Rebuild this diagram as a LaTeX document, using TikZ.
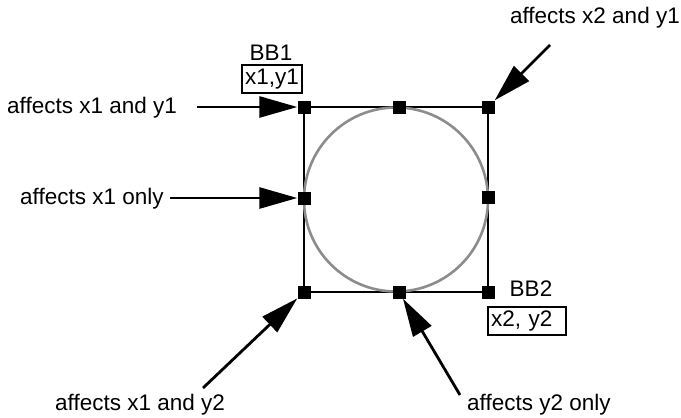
\documentclass[tikz,border=0pt]{standalone}
\usepackage{fontspec}
\setmainfont{Liberation Sans}
\usetikzlibrary{arrows.meta}

\begin{document}
\begin{tikzpicture}[x=1pt, y=-1pt, >={Triangle[length=38pt, width=21pt]},
    handle/.style={fill=black, inner sep=0pt, minimum size=13pt},
    lbl/.style={inner sep=0pt, font=\fontsize{22.5}{27}\selectfont},
    pointer/.style={->, line width=2.8pt},
    valbox/.style={draw, line width=2.4pt, inner sep=3pt, minimum height=28pt,
                   font=\fontsize{22.5}{27}\selectfont}]
  \useasboundingbox (0,0) rectangle (681,418);
  % bounding box and the ellipse inside it
  \draw[line width=2pt] (304,107) rectangle (488,292);
  \draw[black!45, line width=2.6pt] (396,199.5) circle (92);
  % 8 handles
  \foreach \name/\px/\py in {tl/304/107, tm/399/107, tr/488/107,
      ml/304/198, mr/488/197,
      bl/304/292, bm/399/292, br/488/292} {
    \node[handle] (\name) at (\px,\py) {};
  }
  % corner labels
  \node[lbl] (bb1) at (271,53) {BB1};
  \node[valbox, minimum width=60pt] (v1) at (272,79) {x1,y1};
  \node[lbl] (bb2) at (531,289) {BB2};
  \node[valbox, text width=72pt, align=left] (v2) at (527,321) {x2, y2};
  % what each handle changes
  \node[lbl, anchor=west] (a1) at (7,108) {affects x1 and y1};
  \node[lbl, anchor=west] (a2) at (20,199) {affects x1 only};
  \node[lbl, anchor=east] (a3) at (680,18) {affects x2 and y1};
  \node[lbl, anchor=west] (a4) at (55,405) {affects x1 and y2};
  \node[lbl, anchor=west] (a5) at (467,405) {affects y2 only};
  \coordinate (t1) at (197,107);
  \coordinate (t2) at (170,198);
  \coordinate (t3) at (550,45);
  \coordinate (t4) at (203,388);
  \coordinate (t5) at (460,395);
  \draw[pointer] (t1) -- (tl);
  \draw[pointer] (t2) -- (ml);
  \draw[pointer] (t3) -- (tr);
  \draw[pointer] (t4) -- (bl);
  \draw[pointer] (t5) -- (bm);
\end{tikzpicture}
\end{document}
